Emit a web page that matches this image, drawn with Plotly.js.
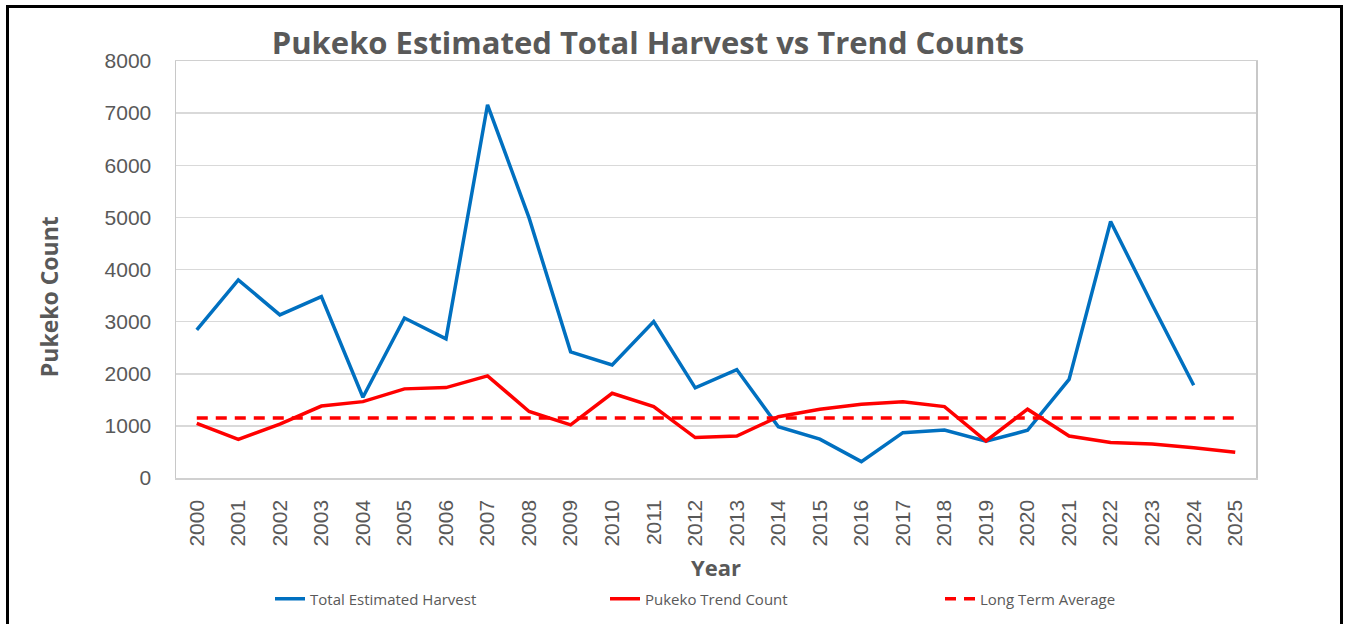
<!DOCTYPE html>
<html>
<head>
<meta charset="utf-8">
<script src="https://cdn.plot.ly/plotly-3.0.1.min.js"></script>
<style>
  html, body { margin: 0; padding: 0; background: #ffffff; overflow: hidden; }
  #chart { width: 1348px; height: 624px; position: relative; }
  #frame { position: absolute; left: 6px; top: 5px; width: 1337px; height: 700px;
           border: 3px solid #000; box-sizing: border-box; pointer-events: none; }
</style>
</head>
<body>
<div id="chart"></div>
<div id="frame"></div>
<script>
// ---- data ----
const years = ["2000","2001","2002","2003","2004","2005","2006","2007","2008","2009",
               "2010","2011","2012","2013","2014","2015","2016","2017","2018","2019",
               "2020","2021","2022","2023","2024","2025"];
const totalHarvest = [2840, 3800, 3130, 3480, 1550, 3070, 2670, 7160, 4990, 2420,
                      2170, 3000, 1730, 2080, 985, 745, 315, 870, 920, 705,
                      915, 1890, 4920, 3330, 1780, null];
const trendCount = [1050, 740, 1035, 1380, 1465, 1710, 1735, 1960, 1275, 1020,
                    1625, 1370, 775, 805, 1175, 1320, 1415, 1465, 1370, 710,
                    1320, 805, 680, 650, 580, 495];
const longTermAverage = [1150, 1150, 1150, 1150, 1150, 1150, 1150, 1150, 1150, 1150,
                         1150, 1150, 1150, 1150, 1150, 1150, 1150, 1150, 1150, 1150,
                         1150, 1150, 1150, 1150, 1150, 1150];
const seriesNames = ["Total Estimated Harvest", "Pukeko Trend Count", "Long Term Average"];
const yTicks = [0, 1000, 2000, 3000, 4000, 5000, 6000, 7000, 8000];

const grey = "#595959";

const traces = [
  { x: years, y: totalHarvest, name: seriesNames[0], type: "scatter", mode: "lines",
    line: { color: "#0070C0", width: 3.5 }, connectgaps: false },
  { x: years, y: trendCount, name: seriesNames[1], type: "scatter", mode: "lines",
    line: { color: "#FF0000", width: 3.5 } },
  { x: years, y: longTermAverage, name: seriesNames[2], type: "scatter", mode: "lines",
    line: { color: "#FF0000", width: 3.5, dash: "11px,8px" } }
];

const layout = {
  width: 1348, height: 624,
  margin: { l: 176, r: 92, t: 61, b: 146 },
  paper_bgcolor: "#ffffff", plot_bgcolor: "#ffffff",
  showlegend: true,
  title: {
    text: "Pukeko Estimated Total Harvest vs Trend Counts",
    font: { family: "Open Sans", size: 31, color: grey, weight: 700 },
    x: 0.4807, xref: "container", xanchor: "center",
    y: 1 - 43 / 624, yref: "container", yanchor: "middle"
  },
  xaxis: {
    type: "category",
    range: [-0.5, years.length - 0.5],
    tickangle: -90,
    tickfont: { family: "Liberation Sans", size: 21, color: grey },
    ticks: "outside", ticklen: 12, tickcolor: "rgba(0,0,0,0)",
    showgrid: false,
    showline: true, linecolor: "#d0d0d0", linewidth: 1.5, mirror: true,
    zeroline: false,
    title: { text: "Year", font: { family: "Open Sans", size: 22, color: grey, weight: 700 }, standoff: 17 }
  },
  yaxis: {
    range: [0, 8000],
    tickvals: yTicks,
    tickfont: { family: "Liberation Sans", size: 21, color: grey },
    ticks: "outside", ticklen: 19, tickcolor: "rgba(0,0,0,0)",
    showgrid: true, gridcolor: "#d9d9d9", gridwidth: 1.5,
    showline: true, linecolor: "#c8c8c8", linewidth: 1.5, mirror: true,
    zeroline: false
  },
  annotations: [{
    text: "Pukeko Count", textangle: -90,
    xref: "paper", yref: "paper", x: -0.1176, y: 0.436,
    xanchor: "center", yanchor: "middle", showarrow: false,
    font: { family: "Open Sans", size: 23, color: grey, weight: 700 }
  }],
  legend: {
    orientation: "h",
    xref: "container", yref: "container",
    x: 270 / 1348, xanchor: "left",
    y: 1 - 599 / 624, yanchor: "middle",
    font: { family: "Open Sans", size: 15, color: grey },
    entrywidth: 290, entrywidthmode: "pixels",
    bgcolor: "rgba(0,0,0,0)"
  }
};

Plotly.newPlot("chart", traces, layout, { displayModeBar: false, staticPlot: true });
</script>
</body>
</html>
